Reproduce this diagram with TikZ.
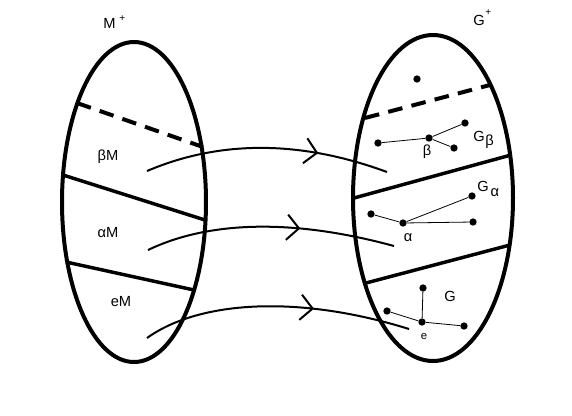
\documentclass[tikz,border=0pt]{standalone}
\usepackage{fontspec}
\setmainfont{Liberation Sans}
\usetikzlibrary{arrows.meta,decorations.markings}
\tikzset{
  setline/.style={line width=3pt},
  cutline/.style={line width=2.6pt},
  cutdash/.style={line width=3pt, dash pattern=on 11pt off 7pt},
  mapline/.style={line width=1.5pt},
  midarrow/.style={decoration={markings,
      mark=at position #1 with {\arrow{Straight Barb[length=9pt,width=19pt]}}},
    postaction={decorate}},
  vertex/.style={circle, fill=black, inner sep=0pt, minimum size=5.5pt},
  edge/.style={line width=0.6pt},
  lbl/.style={font=\fontsize{11}{13}\selectfont, inner sep=0pt},
  lblsm/.style={font=\fontsize{8.5}{10}\selectfont, inner sep=0pt},
}
\newcommand{\plussup}[1]{\raisebox{#1}{\fontsize{7.5}{8}\selectfont+}}

\begin{document}
\begin{tikzpicture}[x=0.75pt,y=-0.75pt]
  \useasboundingbox (0,0) rectangle (572,415);
  % the two sets
  \draw[setline] (134,202) ellipse (72 and 160);
  \draw[setline] (433,198) ellipse (80 and 163);
  \node[lbl, anchor=base west] (mplus) at (103,28) {M\hspace{3pt}\plussup{5pt}};
  \node[lbl, anchor=base west] (gplus) at (473,25) {G\hspace{0.5pt}\plussup{7.5pt}};
  % cosets of M
  \draw[cutdash] (77,103) -- (203,147);
  \draw[cutline] (63,175) -- (205,220);
  \draw[cutline] (66,262) -- (194,290);
  \node[lbl] (bm) at (108,157) {βM};
  \node[lbl] (am) at (108,233) {αM};
  \node[lbl] (em) at (121,302) {eM};
  % pieces of G
  \draw[cutdash] (365,118) -- (490,85);
  \draw[cutline] (354,198) -- (511,155);
  \draw[cutline] (366,283) -- (510,245);
  \node[vertex] (top) at (417,79) {};
  % G_beta
  \node[vertex] (b0) at (429,138) {};
  \node[vertex] (b1) at (378,143) {};
  \node[vertex] (b2) at (465,123) {};
  \node[vertex] (b3) at (454,148) {};
  \foreach \v in {b1,b2,b3}
    \draw[edge] (b0) -- (\v);
  \node[lbl] (bl) at (427,152) {β};
  \node[lbl, anchor=west] (gb) at (473,140) {G\hspace{0.5pt}\raisebox{-0.6ex}{β}};
  % G_alpha
  \node[vertex] (a0) at (403,223) {};
  \node[vertex] (a1) at (371,214) {};
  \node[vertex] (a2) at (472,196) {};
  \node[vertex] (a3) at (473,222) {};
  \foreach \v in {a1,a2,a3}
    \draw[edge] (a0) -- (\v);
  \node[lbl] (al) at (408,238) {α};
  \node[lbl, anchor=west] (ga) at (477,189) {G\hspace{1.5pt}\raisebox{-0.6ex}{α}};
  % G
  \node[vertex] (e0) at (422,322) {};
  \node[vertex] (e1) at (423,288) {};
  \node[vertex] (e2) at (387,311) {};
  \node[vertex] (e3) at (464,326) {};
  \foreach \v in {e1,e2,e3}
    \draw[edge] (e0) -- (\v);
  \node[lblsm] (el) at (424,336) {e};
  \node[lbl] (g) at (450,296) {G};
  % the maps
  \coordinate (s1) at (147,171); \coordinate (t1) at (387,172);
  \coordinate (s2) at (148,250); \coordinate (t2) at (394,246);
  \coordinate (s3) at (147,338); \coordinate (t3) at (409,329);
  \draw[mapline, midarrow=0.71] (s1) .. controls (220,140) and (300,140) .. (t1);
  \draw[mapline, midarrow=0.62] (s2) .. controls (200,225) and (280,215) .. (t2);
  \draw[mapline, midarrow=0.64] (s3) .. controls (200,300) and (300,295) .. (t3);
\end{tikzpicture}
\end{document}
